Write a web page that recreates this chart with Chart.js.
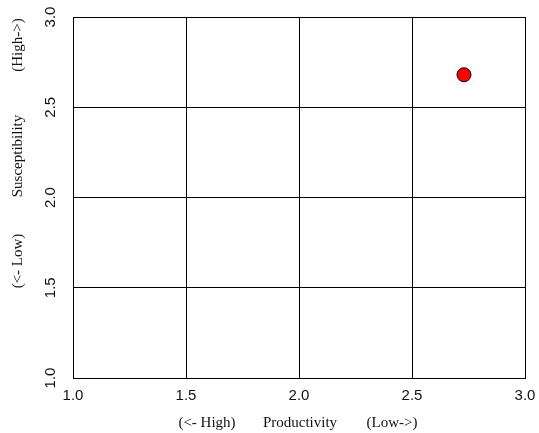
<!DOCTYPE html>
<html>
<head>
<meta charset="utf-8">
<script src="https://cdn.jsdelivr.net/npm/chart.js@4.4.0/dist/chart.umd.min.js"></script>
<style>
html,body{margin:0;padding:0;background:#fff;}
#wrap{width:539px;height:433px;}
</style>
</head>
<body>
<div id="wrap"><canvas id="c" width="539" height="433"></canvas></div>
<script>
const productivity = [2.73];
const susceptibility = [2.68];
const xTicks = [1.0, 1.5, 2.0, 2.5, 3.0];
const yTicks = [1.0, 1.5, 2.0, 2.5, 3.0];
const xTitleParts = ["(<- High)", "Productivity", "(Low->)"];
const yTitleParts = ["(<- Low)", "Susceptibility", "(High->)"];

const labelPlugin = {
  id: 'labels',
  afterDraw(chart) {
    const ctx = chart.ctx;
    const xs = chart.scales.x, ys = chart.scales.y;
    const ca = chart.chartArea;
    ctx.save();
    ctx.fillStyle = '#111';
    ctx.font = '15px "Liberation Sans", Arial, sans-serif';
    ctx.textAlign = 'center';
    ctx.textBaseline = 'middle';
    xTicks.forEach(v => {
      ctx.fillText(v.toFixed(1), xs.getPixelForValue(v), ca.bottom + 18);
    });
    yTicks.forEach(v => {
      ctx.save();
      ctx.translate(ca.left - 22, ys.getPixelForValue(v));
      ctx.rotate(-Math.PI / 2);
      ctx.fillText(v.toFixed(1), 0, 0);
      ctx.restore();
    });
    ctx.font = '15px "Liberation Serif", "Times New Roman", serif';
    const xPos = [207, 300, 392].map(p => (p - 73) / 452);
    xTitleParts.forEach((t, i) => {
      ctx.fillText(t, ca.left + xPos[i] * (ca.right - ca.left), ca.bottom + 45);
    });
    const yPos = [261, 156, 45].map(p => (p - 17) / 361);
    yTitleParts.forEach((t, i) => {
      ctx.save();
      ctx.translate(18, ca.top + yPos[i] * (ca.bottom - ca.top));
      ctx.rotate(-Math.PI / 2);
      ctx.fillText(t, 0, 0);
      ctx.restore();
    });
    ctx.restore();
  }
};

new Chart(document.getElementById('c'), {
  type: 'scatter',
  data: {
    datasets: [{
      data: productivity.map((x, i) => ({x: x, y: susceptibility[i]})),
      backgroundColor: '#ff0000',
      borderColor: '#000',
      borderWidth: 1,
      pointRadius: 7,
      pointHoverRadius: 7
    }]
  },
  options: {
    responsive: false,
    animation: false,
    events: [],
    layout: { padding: { left: 73, right: 14, top: 17, bottom: 55 } },
    plugins: { legend: { display: false }, tooltip: { enabled: false } },
    scales: {
      x: {
        type: 'linear', min: 1, max: 3,
        afterBuildTicks: s => { s.ticks = xTicks.map(v => ({value: v})); },
        ticks: { display: false },
        grid: { color: '#000', lineWidth: 1, drawTicks: false },
        border: { display: true, color: '#000', width: 1 }
      },
      y: {
        type: 'linear', min: 1, max: 3,
        afterBuildTicks: s => { s.ticks = yTicks.map(v => ({value: v})); },
        ticks: { display: false },
        grid: { color: '#000', lineWidth: 1, drawTicks: false },
        border: { display: true, color: '#000', width: 1 }
      }
    }
  },
  plugins: [labelPlugin]
});
</script>
</body>
</html>
